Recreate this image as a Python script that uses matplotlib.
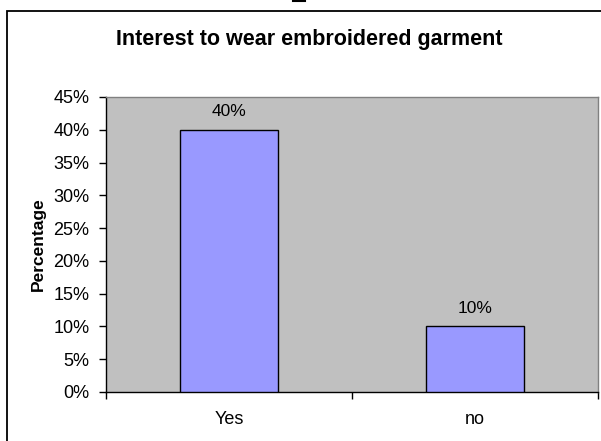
import matplotlib
matplotlib.use("Agg")
import matplotlib.pyplot as plt
from matplotlib.patches import Rectangle
from matplotlib.lines import Line2D

plt.rcParams['font.family'] = ['Liberation Sans', 'DejaVu Sans']

categories = ["Yes", "no"]
values = [40, 10]
y_ticks = [0, 5, 10, 15, 20, 25, 30, 35, 40, 45]
title = "Interest to wear embroidered garment"
y_label = "Percentage"

W, H = 601, 441
fig = plt.figure(figsize=(W / 100, H / 100), dpi=100)
fig.patch.set_facecolor('white')

ax = fig.add_axes([106 / W, 1 - 392 / H, (598 - 106) / W, (392 - 97) / H])
ax.set_facecolor('#c0c0c0')

x = list(range(len(categories)))
ax.bar(x, values, width=0.4, color='#9999ff', edgecolor='black', linewidth=1, zorder=3)
for xi, v in zip(x, values):
    ax.annotate(f"{v}%", (xi, v), xytext=(0, 18), textcoords='offset pixels',
                ha='center', va='center', fontsize=12.5)

ax.set_xlim(-0.5, len(categories) - 0.5)
ax.set_ylim(0, 45)
ax.set_yticks(y_ticks)
ax.set_yticklabels([f"{t}%" for t in y_ticks], fontsize=13)
ax.tick_params(axis='y', direction='out', length=5, width=1, pad=7, colors='black')

ax.set_xticks([i - 0.5 for i in range(len(categories) + 1)])
ax.set_xticklabels([])
ax.tick_params(axis='x', which='major', direction='out', length=5, width=1)
ax.set_xticks(x, minor=True)
ax.set_xticklabels(categories, minor=True, fontsize=13)
ax.tick_params(axis='x', which='minor', length=0, pad=14)

for side in ['left', 'bottom']:
    ax.spines[side].set_color('black')
    ax.spines[side].set_linewidth(1)
for side in ['top', 'right']:
    ax.spines[side].set_color('#808080')
    ax.spines[side].set_linewidth(1)

ax.set_ylabel(y_label, fontsize=12.5, fontweight='bold', labelpad=5)
fig.text(309 / W, 1 - 40 / H, title, ha='center', va='center',
         fontsize=15.5, fontweight='bold')

# outer chart frame (cropped on right and bottom)
fig.add_artist(Rectangle((6.5 / W, -0.1), 1.2, 1 - 11 / H + 0.1, transform=fig.transFigure,
                         fill=False, edgecolor='black', linewidth=1.3))
# stray mark at top edge
fig.add_artist(Line2D([293 / W, 305 / W], [1 - 0.8 / H, 1 - 0.8 / H], transform=fig.transFigure,
                      color='black', linewidth=1.5))

fig.savefig("out.png", dpi=100)
